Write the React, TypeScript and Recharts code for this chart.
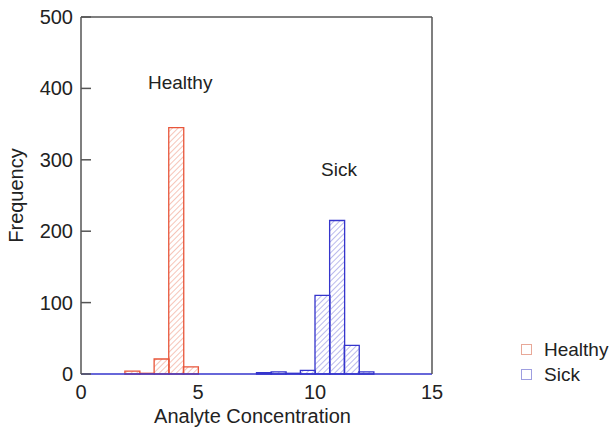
import {
  ComposedChart,
  Bar,
  XAxis,
  YAxis,
  ReferenceLine,
} from 'recharts';

// bin centres, 24 bins of width 0.625 over 0..15
const binCenters = [
  0.3125, 0.9375, 1.5625, 2.1875, 2.8125, 3.4375, 4.0625, 4.6875,
  5.3125, 5.9375, 6.5625, 7.1875, 7.8125, 8.4375, 9.0625, 9.6875,
  10.3125, 10.9375, 11.5625, 12.1875, 12.8125, 13.4375, 14.0625, 14.6875,
];
const healthyCounts = [0, 0, 0, 4, 1, 21, 345, 10, 0, 0, 0, 0, 0, 0, 0, 0, 0, 0, 0, 0, 0, 0, 0, 0];
const sickCounts = [0, 0, 0, 0, 0, 0, 0, 0, 0, 0, 0, 0, 2, 3, 1, 5, 110, 215, 40, 3, 0, 0, 0, 0];

const xTicks = [0, 5, 10, 15];
const leftTicks = [0, 100, 200, 300, 400, 500];
const rightTicks = [0, 0.2, 0.4, 0.6, 0.8, 1.0, 1.2];

const data = binCenters.map((c, i) => ({
  x: c,
  healthy: healthyCounts[i],
  sick: sickCounts[i],
}));

const FONT = '"Liberation Sans", Arial, Helvetica, sans-serif';
const TEXT = '#222';
const AXIS = '#555';
const RED = '#e8553a';
const BLUE = '#3535cc';
const FS = 20;

const LeftTick = ({ x, y, payload }: any) => (
  <g>
    <line x1={x} x2={x + 10} y1={y} y2={y} stroke={AXIS} strokeWidth={1.5} />
    <text x={x - 8} y={y} dy={7} textAnchor="end" fill={TEXT} fontSize={FS} fontFamily={FONT}>
      {payload.value}
    </text>
  </g>
);

const RightTick = ({ x, y, payload }: any) => (
  <g>
    <line x1={x - 7} x2={x + 5} y1={y} y2={y} stroke={AXIS} strokeWidth={1.5} />
    <text x={x + 7} y={y} dy={7} textAnchor="start" fill={TEXT} fontSize={FS} fontFamily={FONT}>
      {payload.value.toFixed(1).replace('.', ',')}
    </text>
  </g>
);

export default function App() {
  return (
    <div style={{ position: 'absolute', left: 0, top: 0, width: 612, height: 432, background: '#fff' }}>
      <svg width={0} height={0} style={{ position: 'absolute' }}>
        <defs>
          <pattern id="hatchRed" width={4} height={4} patternUnits="userSpaceOnUse" patternTransform="rotate(45)">
            <line x1={0} y1={0} x2={0} y2={4} stroke="#f2a593" strokeWidth={1.3} />
          </pattern>
          <pattern id="hatchBlue" width={4} height={4} patternUnits="userSpaceOnUse" patternTransform="rotate(45)">
            <line x1={0} y1={0} x2={0} y2={4} stroke="#9595e3" strokeWidth={1.3} />
          </pattern>
        </defs>
      </svg>
      <ComposedChart
        width={612}
        height={432}
        data={data}
        margin={{ top: 17, right: 120, left: 0, bottom: 8 }}
        barCategoryGap={0}
        barGap={0}
      >
        <XAxis
          dataKey="x"
          type="number"
          domain={[0, 15]}
          ticks={xTicks}
          allowDataOverflow
          height={50}
          tickLine={false}
          tickMargin={5}
          axisLine={{ stroke: BLUE, strokeWidth: 1.5 }}
          tick={{ fill: TEXT, fontSize: FS, fontFamily: FONT }}
          label={{ value: 'Analyte Concentration', position: 'insideBottom', offset: 1, dx: -4, fill: TEXT, fontSize: FS, fontFamily: FONT }}
        />
        <YAxis
          yAxisId="left"
          domain={[0, 500]}
          ticks={leftTicks}
          width={81}
          tickLine={false}
          tickSize={0}
          tickMargin={0}
          tick={<LeftTick />}
          axisLine={{ stroke: AXIS, strokeWidth: 1.5 }}
          label={{ value: 'Frequency', angle: -90, position: 'insideLeft', offset: 16, fill: TEXT, fontSize: FS, fontFamily: FONT, style: { textAnchor: 'middle' } }}
        />
        <YAxis
          yAxisId="right"
          orientation="right"
          domain={[0, 1.31]}
          ticks={rightTicks}
          width={60}
          tickLine={false}
          tickSize={0}
          tickMargin={0}
          tick={<RightTick />}
          axisLine={{ stroke: AXIS, strokeWidth: 1.5 }}
        />
        <ReferenceLine yAxisId="left" y={500} stroke={AXIS} strokeWidth={1.5} />
        <Bar
          yAxisId="left"
          dataKey="healthy"
          stackId="a"
          fill="url(#hatchRed)"
          stroke={RED}
          strokeWidth={1.3}
          isAnimationActive={false}
        />
        <Bar
          yAxisId="left"
          dataKey="sick"
          stackId="a"
          fill="url(#hatchBlue)"
          stroke={BLUE}
          strokeWidth={1.3}
          isAnimationActive={false}
        />
      </ComposedChart>
      <div style={{ position: 'absolute', left: 148, top: 72, fontFamily: FONT, fontSize: 19, color: TEXT }}>Healthy</div>
      <div style={{ position: 'absolute', left: 321, top: 159, fontFamily: FONT, fontSize: 19, color: TEXT }}>Sick</div>
      <div style={{ position: 'absolute', left: 521, top: 337, fontFamily: FONT, fontSize: 19, color: TEXT, lineHeight: '25px' }}>
        <div style={{ display: 'flex', alignItems: 'center' }}>
          <span style={{ width: 9, height: 9, border: '1.3px solid #e8a898', marginRight: 12, display: 'inline-block' }} />
          Healthy
        </div>
        <div style={{ display: 'flex', alignItems: 'center' }}>
          <span style={{ width: 9, height: 9, border: '1.3px solid #9e9ee0', marginRight: 12, display: 'inline-block' }} />
          Sick
        </div>
      </div>
    </div>
  );
}
